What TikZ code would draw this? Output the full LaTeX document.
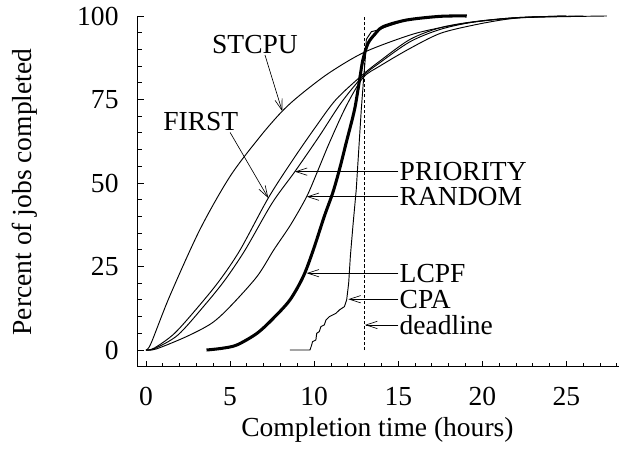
\documentclass[tikz,border=0pt]{standalone}
\usepackage{fontspec}
\setmainfont{Liberation Serif}
\usetikzlibrary{arrows.meta}
\tikzset{
  axis/.style={line width=0.8pt},
  run/.style={line width=0.8pt, line join=round},
  fat/.style={line width=2.6pt, line join=round},
  ptr/.style={line width=0.55pt, -{Straight Barb[length=3.4mm,width=2.2mm]}},
  lbl/.style={font=\fontsize{23.5}{28}\selectfont, inner sep=1pt},
  limit/.style={line width=0.6pt, dash pattern=on 2.6pt off 1.8pt}
}
\begin{document}
\begin{tikzpicture}[x=0.5046cm,y=0.1002cm]
\useasboundingbox (-8.68,-31.14) rectangle (28.36,104.79);
% axes
\draw[axis] (-0.49,100)--(-0.49,-5)--(28.1,-5);
\foreach \y in {0,5,...,100} \draw[axis,shift={(-0.49,\y)}] (0,0)--(0.13cm,0);
\foreach \y in {0,25,...,100} \draw[axis,shift={(-0.49,\y)}] (0,0)--(0.18cm,0);
\foreach \x in {0,...,28} \draw[axis,shift={(\x,-5)}] (0,0)--(0,0.1cm);
\foreach \x in {0,5,...,25} \draw[axis,shift={(\x,-5)}] (0,0)--(0,0.18cm);
\foreach \y in {0,25,...,100} \node[lbl,anchor=east] (ylab\y) at (-1.55,\y) {\y};
\foreach \x in {0,5,...,25} \node[lbl] (xlab\x) at (\x,-14) {\x};
\node[lbl,rotate=90] (ytitle) at (-7.19,47.3) {Percent of jobs completed};
\node[lbl] (xtitle) at (13.76,-24) {Completion time (hours)};
% deadline
\coordinate (dlBot) at (13,0);
\coordinate (dlTop) at (13,100);
\draw[limit] (dlBot)--(dlTop);
% STCPU
\draw[run] plot[smooth,tension=0.5] coordinates {(0,0) (0.3,2) (1.4,16) (3.2,36) (5,52) (6.8,64) (8.1,71.5) (9.2,76.5) (10.9,83) (13,89.2) (15.7,94.3) (17.5,96.5) (19.5,98.2) (22.4,99.5) (27.4,100)};
% FIRST
\draw[run] plot[smooth,tension=0.5] coordinates {(0,0) (0.5,0.6) (1.7,5) (3.2,13.5) (4.4,21) (5.6,30) (7.27,45.5) (8.74,57) (10.1,66.9) (11.3,75) (12.9,82.5) (13.9,86.5) (15.7,93) (17.5,96.5) (19.5,98.3) (22,99.5) (25,100)};
% PRIORITY
\draw[run] plot[smooth,tension=0.5] coordinates {(0,0) (0.5,0.4) (1.9,4.5) (3.5,13.5) (4.7,21) (5.9,30) (7.5,44) (8.85,53.4) (10.3,64) (11.6,74) (12.9,82) (13.9,86) (15.7,92.3) (17.5,96) (19.5,98.2) (22,99.5) (25,100)};
% RANDOM
\draw[run] plot[smooth,tension=0.5] coordinates {(0,0) (0.6,0.3) (2.4,4) (3.9,8) (5,13) (6.6,22) (7.6,30) (8.6,37.5) (9.55,45.9) (10.2,53.5) (10.9,62) (11.9,73) (12.9,81.5) (13.9,85) (15.7,90.3) (17.5,94.8) (19.5,97.3) (21.4,99) (23,99.7) (26,100)};
% LCPF
\draw[fat] plot[smooth,tension=0.5] coordinates {(3.6,0) (4.5,0.5) (5.4,1.5) (6.6,5) (7.57,9.5) (8.56,15) (9.35,22) (9.95,30) (10.6,40) (11.1,47) (11.5,54) (11.9,62) (12.4,72) (12.7,81) (12.9,87) (13.2,91.8) (13.6,94.5) (14.1,96.8) (15.5,98.8) (17.5,99.9) (19.07,100)};
% CPA
\draw[run] plot coordinates {(8.56,0) (9.75,0) (9.85,1.5) (9.9,2.5) (10.1,3) (10.15,5) (10.3,5.5) (10.4,7) (10.6,7.5) (10.7,9) (10.9,10) (11.3,11) (11.5,12) (11.8,13) (11.93,15) (12.05,20) (12.15,28) (12.3,37) (12.5,48) (12.65,60) (12.8,72) (12.95,82) (13.05,88) (13.1,93) (13.4,95.3) (13.8,95.8) (14.3,96.8) (15.5,98.8) (17.5,99.9) (19,100)};
% labels
\node[lbl] (lblSTCPU) at (6.48,91.5) {STCPU};
\node[lbl] (lblFIRST) at (3.26,68.3) {FIRST};
\node[lbl,anchor=west] (lblPRIORITY) at (15,53.4) {PRIORITY};
\node[lbl,anchor=west] (lblRANDOM) at (15,45.9) {RANDOM};
\node[lbl,anchor=west] (lblLCPF) at (15,23) {LCPF};
\node[lbl,anchor=west] (lblCPA) at (15,15.2) {CPA};
\node[lbl,anchor=west] (lblDeadline) at (15,7.5) {deadline};
\coordinate (onSTCPU) at (8.1,71.5);
\coordinate (onFIRST) at (7.27,45.5);
\coordinate (onPRIORITY) at (8.85,53.4);
\coordinate (onRANDOM) at (9.55,45.9);
\coordinate (onLCPF) at (9.55,23);
\coordinate (onCPA) at (12.03,15.2);
\coordinate (onDeadline) at (13.02,7.5);
\draw[ptr] ([xshift=0.3cm]lblSTCPU.south)--(onSTCPU);
\draw[ptr] ([xshift=0.88cm]lblFIRST.south)--(onFIRST);
\draw[ptr] (lblPRIORITY.west)--(onPRIORITY);
\draw[ptr] (lblRANDOM.west)--(onRANDOM);
\draw[ptr] (lblLCPF.west)--(onLCPF);
\draw[ptr] (lblCPA.west)--(onCPA);
\draw[ptr] (lblDeadline.west)--(onDeadline);
\end{tikzpicture}
\end{document}
